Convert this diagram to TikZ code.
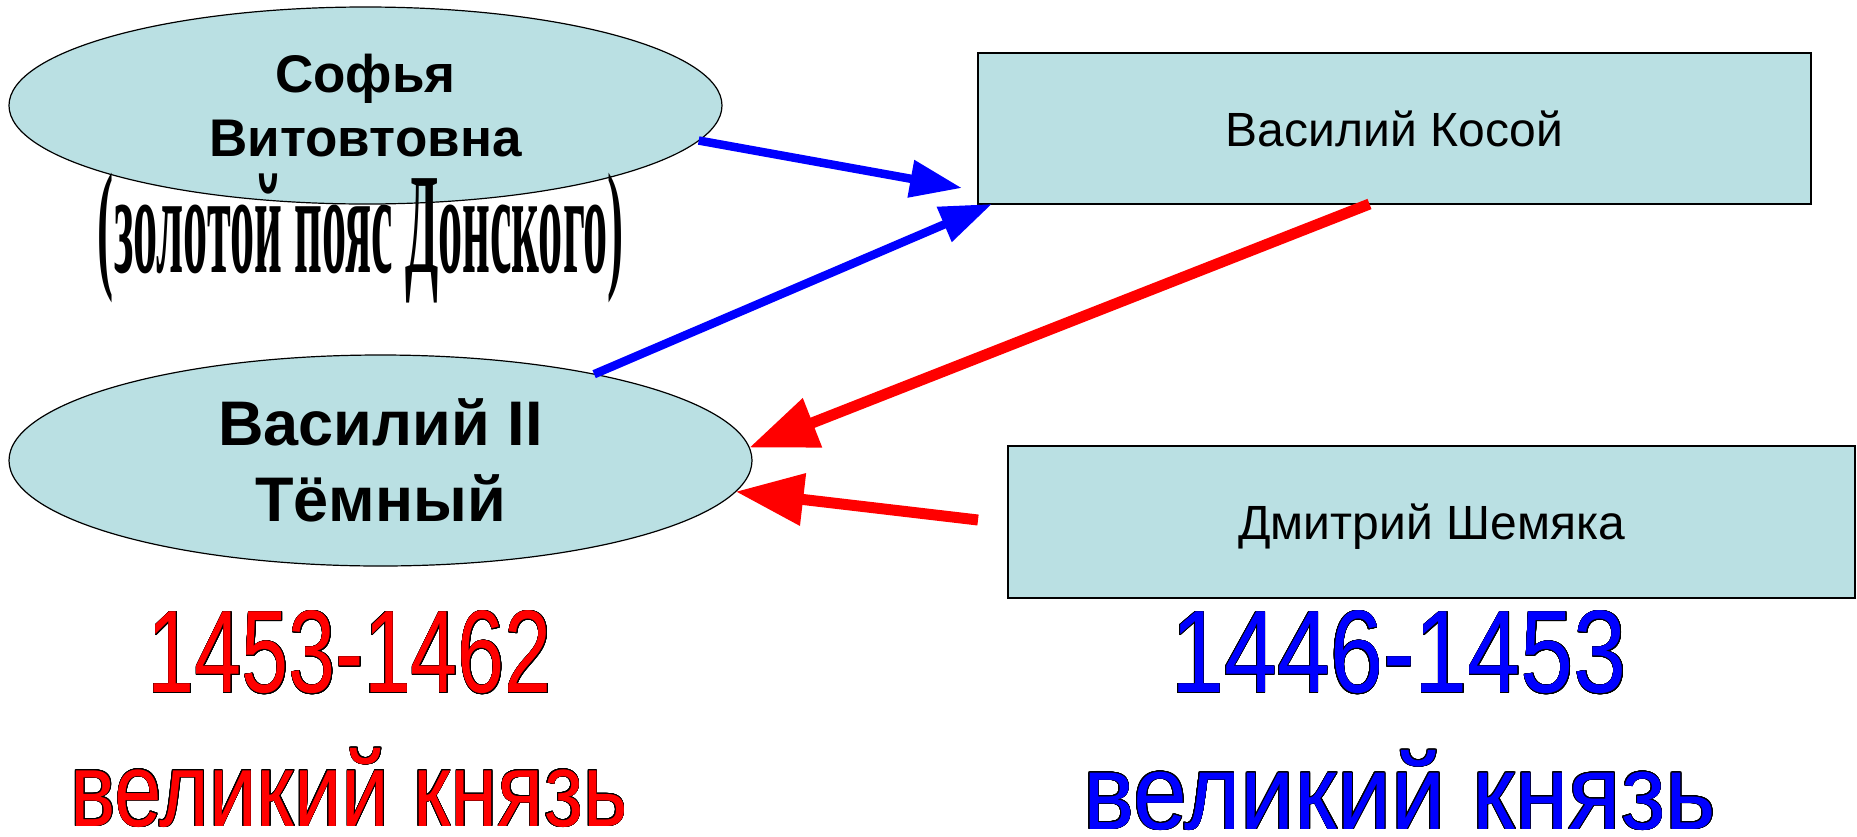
\documentclass[tikz,border=0pt]{standalone}
\usepackage{fontspec}
\setmainfont{Liberation Sans}
\newfontfamily\beltfont{Liberation Serif}
\usepackage{graphicx}
\usepackage[copies]{contour}
\usetikzlibrary{shapes.geometric,arrows.meta}
\definecolor{paleblue}{RGB}{186,224,227}
\contourlength{0.9pt}
\contournumber{24}

\begin{document}
\begin{tikzpicture}[x=1pt,y=-1pt,
    prince/.style={ellipse,draw,fill=paleblue,line width=1.2pt,inner sep=0pt,outer sep=0pt,align=center},
    rival/.style={rectangle,draw,fill=paleblue,line width=1.5pt,inner sep=0pt,outer sep=0pt,text depth=0pt,font=\fontsize{48}{58}\selectfont},
    bluearrow/.style={draw=blue,line width=8.5pt,-{Triangle[length=52pt,width=36pt]}},
    redarrow/.style={draw=red,line width=11pt,-{Triangle[length=68pt,width=50pt]}}]
        \useasboundingbox (0,0) rectangle (1857,836);
        \node[prince,minimum width=713pt,minimum height=197pt,font=\bfseries\fontsize{53}{64}\selectfont] (sofia) at (365.5,105.5) {Софья\\Витовтовна};
        \node[inner sep=0pt] (belt) at (361,238) {\resizebox*{526pt}{130pt}{\beltfont\bfseries\fontsize{100}{100}\selectfont(золотой пояс Донского)}};
        \node[prince,minimum width=743pt,minimum height=211pt,font=\bfseries\fontsize{63}{76}\selectfont] (vasily) at (380.5,460.5) {Василий II\\Тёмный};
        \node[rival,minimum width=833pt,minimum height=151pt] (kosoy) at (1394.5,128.5) {Василий Косой};
        \node[rival,minimum width=847pt,minimum height=152pt] (shemyaka) at (1431.5,522) {Дмитрий Шемяка};

        \node[inner sep=0pt] (redyears) at (350,653) {\resizebox*{404pt}{84pt}{\fontsize{117}{117}\selectfont\textcolor{red}{\contour{black}{1453-1462}}}};
        \node[inner sep=0pt] (redtitle) at (349,788) {\resizebox*{557pt}{80pt}{\fontsize{117}{117}\selectfont\textcolor{red}{\contour{black}{великий князь}}}};
        \node[inner sep=0pt] (blueyears) at (1399,653) {\resizebox*{456pt}{84pt}{\fontsize{117}{117}\selectfont\textcolor{blue}{\contour{black}{1446-1453}}}};
        \node[inner sep=0pt] (bluetitle) at (1399.5,790.5) {\resizebox*{633pt}{81pt}{\fontsize{117}{117}\selectfont\textcolor{blue}{\contour{black}{великий князь}}}};

        \draw[bluearrow] (sofia.-6.6) -- ([xshift=-16pt,yshift=16pt]kosoy.south west);
        \draw[bluearrow] (vasily.22) -- ([xshift=14pt]kosoy.south west);
        \draw[redarrow] ([xshift=-25pt]kosoy.south) -- (vasily.2);
        \draw[redarrow] ([xshift=-30pt,yshift=2pt]shemyaka.west) -- (vasily.-5);
      \end{tikzpicture}
\end{document}
